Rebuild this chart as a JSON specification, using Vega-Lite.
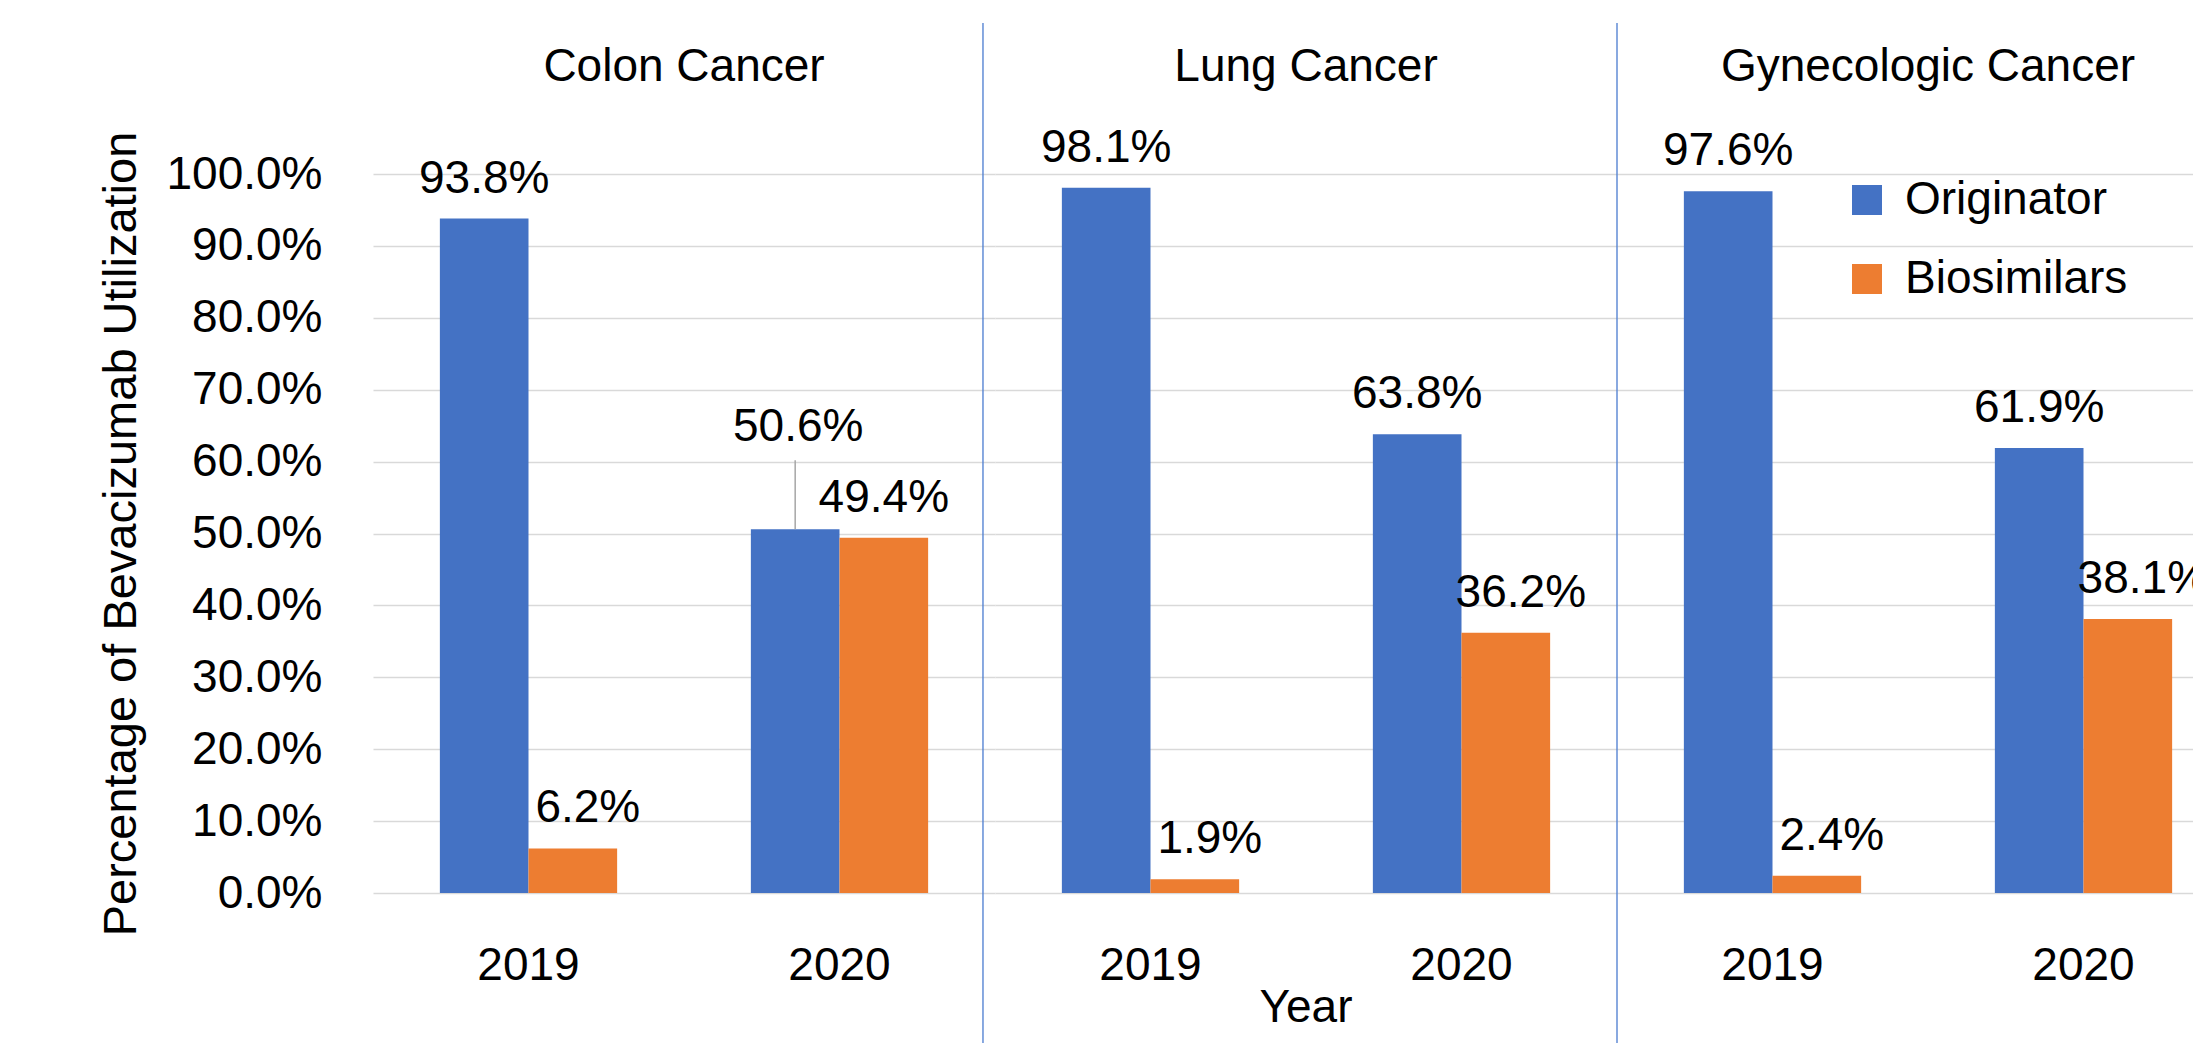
{
  "$schema": "https://vega.github.io/schema/vega-lite/v6.json",
  "padding": {"left": 97, "top": 22, "right": 0, "bottom": 0},
  "background": "white",
  "bounds": "flush",
  "data": {
    "values": [
      {"cancer": "Colon Cancer", "year": "2019", "series": "Originator", "value": 0.938},
      {"cancer": "Colon Cancer", "year": "2019", "series": "Biosimilars", "value": 0.062},
      {"cancer": "Colon Cancer", "year": "2020", "series": "Originator", "value": 0.506},
      {"cancer": "Colon Cancer", "year": "2020", "series": "Biosimilars", "value": 0.494},
      {"cancer": "Lung Cancer", "year": "2019", "series": "Originator", "value": 0.981},
      {"cancer": "Lung Cancer", "year": "2019", "series": "Biosimilars", "value": 0.019},
      {"cancer": "Lung Cancer", "year": "2020", "series": "Originator", "value": 0.638},
      {"cancer": "Lung Cancer", "year": "2020", "series": "Biosimilars", "value": 0.362},
      {"cancer": "Gynecologic Cancer", "year": "2019", "series": "Originator", "value": 0.976},
      {"cancer": "Gynecologic Cancer", "year": "2019", "series": "Biosimilars", "value": 0.024},
      {"cancer": "Gynecologic Cancer", "year": "2020", "series": "Originator", "value": 0.619},
      {"cancer": "Gynecologic Cancer", "year": "2020", "series": "Biosimilars", "value": 0.381}
    ]
  },
  "facet": {
    "column": {
      "field": "cancer",
      "type": "nominal",
      "sort": ["Colon Cancer", "Lung Cancer", "Gynecologic Cancer"],
      "title": "Year",
      "header": {
        "labelOrient": "top",
        "titleOrient": "bottom",
        "labelFont": "Liberation Sans",
        "labelFontSize": 46,
        "labelColor": "#000000",
        "labelPadding": 83,
        "titleFont": "Liberation Sans",
        "titleFontSize": 46,
        "titleFontWeight": "normal",
        "titleColor": "#000000",
        "titlePadding": -12
      }
    }
  },
  "spacing": 0,
  "spec": {
    "width": 622,
    "height": 719,
    "encoding": {
      "x": {
        "field": "year",
        "type": "nominal",
        "title": null,
        "scale": {"paddingInner": 0.43, "paddingOuter": 0.215},
        "axis": {"labelAngle": 0, "labelPadding": 50, "grid": false}
      },
      "xOffset": {"field": "series", "type": "nominal", "sort": ["Originator", "Biosimilars"], "scale": {"paddingInner": 0, "paddingOuter": 0}},
      "y": {
        "field": "value",
        "type": "quantitative",
        "title": "Percentage of Bevacizumab Utilization",
        "scale": {"domain": [0, 1], "nice": false},
        "axis": {"values": [0, 0.1, 0.2, 0.3, 0.4, 0.5, 0.6, 0.7, 0.8, 0.9, 1.0], "format": ".1%", "labelPadding": 51, "titlePadding": 28}
      }
    },
    "layer": [
      {
        "mark": {"type": "bar"},
        "encoding": {
          "color": {
            "field": "series",
            "type": "nominal",
            "scale": {"domain": ["Originator", "Biosimilars"], "range": ["#4472C4", "#ED7D31"]},
            "legend": {
              "title": null,
              "orient": "none",
              "legendX": 1471,
              "legendY": 3,
              "symbolType": "square",
              "symbolSize": 900,
              "symbolStrokeWidth": 0,
              "labelFont": "Liberation Sans",
              "labelFontSize": 46,
              "labelColor": "#000000",
              "labelOffset": 15,
              "labelLimit": 500,
              "rowPadding": 33
            }
          }
        }
      },
      {
        "transform": [{"filter": "(datum.series == 'Originator' && !(datum.cancer == 'Colon Cancer' && datum.year == '2020')) || (datum.series == 'Biosimilars' && datum.cancer == 'Colon Cancer' && datum.year == '2020')"}],
        "mark": {"type": "text", "baseline": "alphabetic", "dy": -26, "font": "Liberation Sans", "fontSize": 46, "color": "#000000"},
        "encoding": {"text": {"field": "value", "type": "quantitative", "format": ".1%"}}
      },
      {
        "transform": [{"filter": "datum.series == 'Biosimilars' && !(datum.cancer == 'Colon Cancer' && datum.year == '2020')"}],
        "mark": {"type": "text", "baseline": "alphabetic", "dy": -26, "dx": 15, "font": "Liberation Sans", "fontSize": 46, "color": "#000000"},
        "encoding": {"text": {"field": "value", "type": "quantitative", "format": ".1%"}}
      },
      {
        "transform": [{"filter": "datum.series == 'Originator' && datum.cancer == 'Colon Cancer' && datum.year == '2020'"}],
        "mark": {"type": "text", "baseline": "alphabetic", "dy": -88, "dx": 3, "font": "Liberation Sans", "fontSize": 46, "color": "#000000"},
        "encoding": {"text": {"field": "value", "type": "quantitative", "format": ".1%"}}
      },
      {
        "transform": [{"filter": "datum.series == 'Originator' && datum.cancer == 'Colon Cancer' && datum.year == '2020'"}],
        "mark": {"type": "rule", "color": "#A6A6A6", "strokeWidth": 1.5, "y2Offset": -69},
        "encoding": {"y2": {"field": "value"}}
      },
      {
        "transform": [{"filter": "datum.series == 'Originator' && datum.year == '2019' && datum.cancer == 'Lung Cancer'"}],
        "mark": {"type": "rule", "color": "#4A7BD0", "strokeWidth": 1.3},
        "encoding": {
          "x": {"field": "year", "type": "nominal", "bandPosition": -0.445},
          "xOffset": null,
          "y": {"datum": 1.21},
          "y2": {"datum": -0.21}
        }
      },
      {
        "transform": [{"filter": "datum.series == 'Originator' && datum.year == '2019' && datum.cancer == 'Gynecologic Cancer'"}],
        "mark": {"type": "rule", "color": "#4A7BD0", "strokeWidth": 1.3},
        "encoding": {
          "x": {"field": "year", "type": "nominal", "bandPosition": -0.3772},
          "xOffset": null,
          "y": {"datum": 1.21},
          "y2": {"datum": -0.21}
        }
      }
    ]
  },
  "config": {
    "view": {"stroke": null},
    "font": "Liberation Sans",
    "axis": {
      "labelFont": "Liberation Sans",
      "labelFontSize": 46,
      "labelColor": "#000000",
      "titleFont": "Liberation Sans",
      "titleFontSize": 47,
      "titleFontWeight": "normal",
      "titleColor": "#000000",
      "domain": false,
      "ticks": false,
      "gridColor": "#D9D9D9",
      "gridWidth": 1.5
    }
  }
}
